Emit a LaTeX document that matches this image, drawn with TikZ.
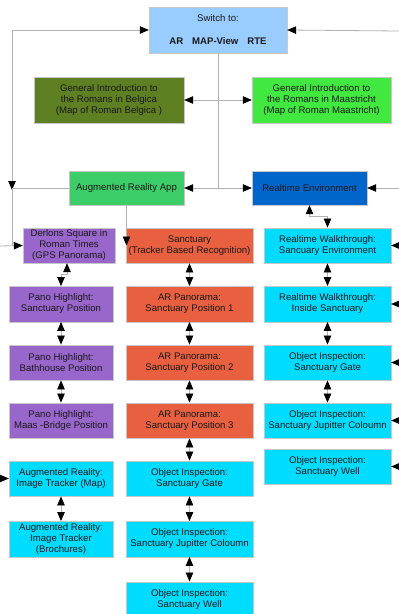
\documentclass[tikz,border=0pt]{standalone}
\usepackage{fontspec}
\setmainfont{Liberation Sans}
\usetikzlibrary{positioning,arrows.meta,calc}

\definecolor{switchblue}{RGB}{153,204,255}
\definecolor{belgicagreen}{RGB}{94,128,34}
\definecolor{maasgreen}{RGB}{64,232,64}
\definecolor{appgreen}{RGB}{60,204,104}
\definecolor{rteblue}{RGB}{0,102,204}
\definecolor{panopurple}{RGB}{153,102,204}
\definecolor{sanctorange}{RGB}{232,96,64}
\definecolor{inspectcyan}{RGB}{0,220,255}

\begin{document}
\begin{tikzpicture}[x=1pt, y=-1pt, font=\fontsize{9.6}{11}\selectfont,
  >={Triangle[length=9pt,width=7.5pt,color=black]},
  box/.style={draw=black!22, align=center, inner sep=0.5pt, text=black!90},
  colwide/.style={box, minimum width=127pt, minimum height=35.5pt},
  colnarrow/.style={box, minimum width=104pt, minimum height=35.5pt},
  link/.style={draw=black!30, line width=0.8pt}]
  \useasboundingbox[fill=white] (0,0) rectangle (399,614);

  % top level
  \node[box, fill=switchblue, minimum width=138pt, minimum height=46pt] (switch) at (218,30)
    {Switch to:\\[12pt]\textbf{AR\hspace{9pt}MAP-View\hspace{9pt}RTE}};
  \node[box, fill=belgicagreen, minimum width=150pt, minimum height=46pt] (belgica) at (109,100)
    {General Introduction to\\the Romans in Belgica\\(Map of Roman Belgica )};
  \node[box, fill=maasgreen, minimum width=139pt, minimum height=46pt] (maastricht) at (321.5,100)
    {General Introduction to\\the Romans in Maastricht\\(Map of Roman Maastricht)};
  \node[box, fill=appgreen, minimum width=115pt, minimum height=34pt] (arapp) at (126.5,188)
    {Augmented Reality App};
  \node[box, fill=rteblue, minimum width=115pt, minimum height=34pt] (rtenv) at (309.5,188)
    {Realtime Environment};

  % left column
  \node[box, fill=panopurple, minimum width=92pt, minimum height=35pt] (derlons) at (69,245.5)
    {Derlons Square in\\Roman Times\\(GPS Panorama)};
  \node[colnarrow, fill=panopurple] (pano1) at (61,304) {Pano Highlight:\\Sanctuary Position};
  \node[colnarrow, fill=panopurple] (pano2) at (61,362.5) {Pano Highlight:\\Bathhouse Position};
  \node[colnarrow, fill=panopurple] (pano3) at (61,420.5) {Pano Highlight:\\Maas -Bridge Position};
  \node[colnarrow, fill=inspectcyan] (trkmap) at (61,478.5) {Augmented Reality:\\Image Tracker (Map)};
  \node[colnarrow, fill=inspectcyan] (trkbro) at (61,539) {Augmented Reality:\\Image Tracker\\(Brochures)};

  % middle column
  \node[colwide, fill=sanctorange] (sanct) at (189.5,245.5) {Sanctuary\\(Tracker Based Recognition)};
  \node[colwide, fill=sanctorange] (arpano1) at (189.5,304) {AR Panorama:\\Sanctuary Position 1};
  \node[colwide, fill=sanctorange] (arpano2) at (189.5,362.5) {AR Panorama:\\Sanctuary Position 2};
  \node[colwide, fill=sanctorange] (arpano3) at (189.5,420.5) {AR Panorama:\\Sanctuary Position 3};
  \node[colwide, fill=inspectcyan] (oigate) at (189.5,478.5) {Object Inspection:\\Sanctuary Gate};
  \node[colwide, fill=inspectcyan] (oijup) at (189.5,539) {Object Inspection:\\Sanctuary Jupitter Coloumn};
  \node[colwide, fill=inspectcyan] (oiwell) at (189.5,599.5) {Object Inspection:\\Sanctuary Well};

  % right column
  \node[colwide, fill=inspectcyan] (rwenv) at (327.5,245.5) {Realtime Walkthrough:\\Sancuary Environment};
  \node[colwide, fill=inspectcyan] (rwin) at (327.5,304) {Realtime Walkthrough:\\Inside Sanctuary};
  \node[colwide, fill=inspectcyan] (rtgate) at (327.5,362.5) {Object Inspection:\\Sanctuary Gate};
  \node[colwide, fill=inspectcyan] (rtjup) at (327.5,420.5) {Object Inspection:\\Sanctuary Jupitter Coloumn};
  \node[colwide, fill=inspectcyan] (rtwell) at (327.5,466.5) {Object Inspection:\\Sanctuary Well};

  \coordinate (lj) at (12,188);
  \coordinate (ledge) at (0,246);
  \coordinate (redge) at (399,31);

  % connectors
  \draw[link,->] (arapp.west) -- (lj) |- (switch.west);
  \draw[link,->] (lj |- switch.west) -- ([yshift=-2pt]lj);
  \draw[link] (lj) -- (lj |- derlons.west);
  \draw[link,->] (ledge) -- (derlons.west);
  \draw[link,->] (trkmap.west -| ledge) -- (trkmap.west);
  \draw[link,->] (redge) -- (switch.east);
  \foreach \n in {rtenv,rwenv,rwin,rtgate,rtjup,rtwell}
    \draw[link,->] (\n.east -| redge) -- (\n.east);

  \draw[link] (switch.south) -- (switch.south |- arapp.east);
  \draw[link,<->] (belgica.east) -- (maastricht.west);
  \draw[link,<->] (arapp.east) -- (rtenv.west);
  \draw[link,->] (arapp.south) -- (arapp.south |- sanct.center);
  \draw[link,<->] (rtenv.south) -- ++(0,11) -| (rwenv.north);
  \draw[link,<->] ([xshift=-2pt]derlons.south) -- ++(0,11) -| (pano1.north);

  \foreach \a/\b in {pano1/pano2,pano2/pano3,trkmap/trkbro,sanct/arpano1,arpano1/arpano2,
      arpano2/arpano3,arpano3/oigate,oigate/oijup,oijup/oiwell,rwenv/rwin,rwin/rtgate,rtgate/rtjup}
    \draw[link,<->] (\a.south) -- (\b.north);
\end{tikzpicture}
\end{document}
